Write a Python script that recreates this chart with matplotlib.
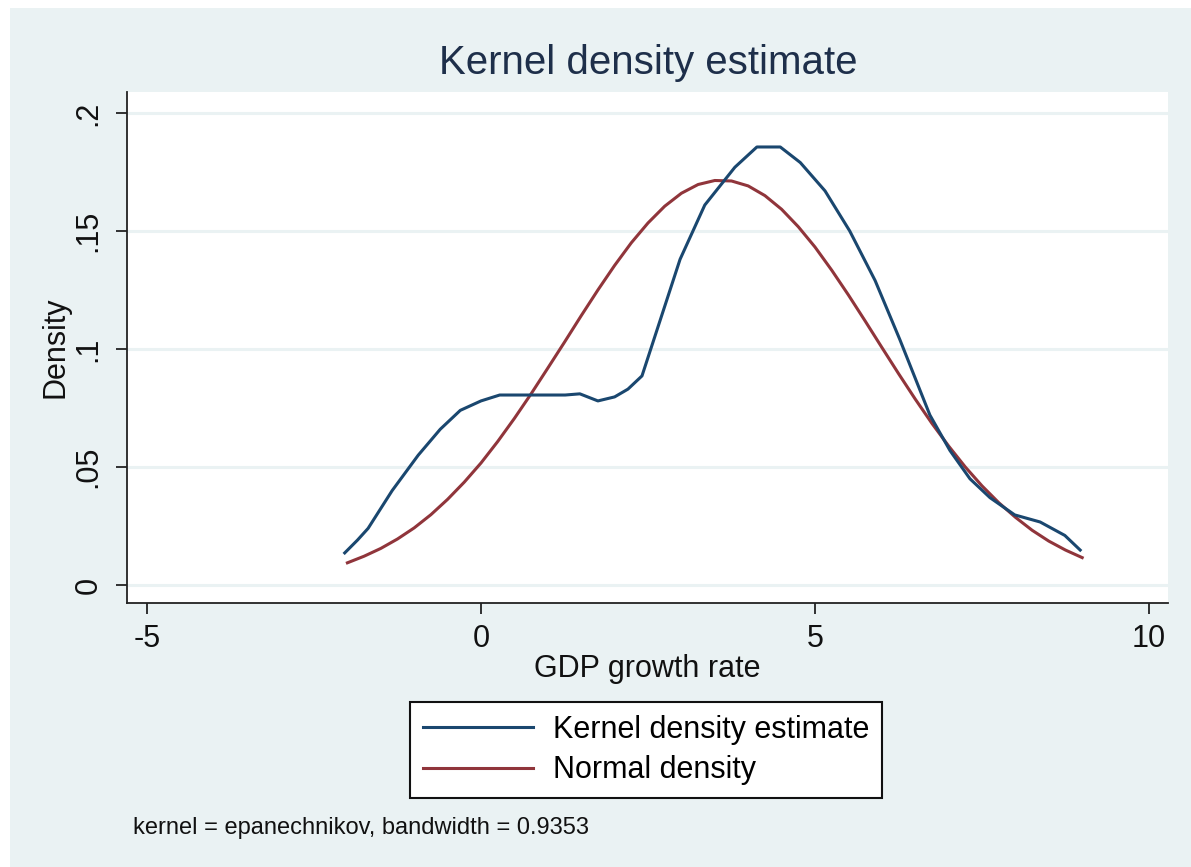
import matplotlib
matplotlib.use("Agg")
import matplotlib.pyplot as plt
from matplotlib.patches import Rectangle

# ---- data ----
kde_x = [-2.04, -1.85, -1.69, -1.33, -0.94, -0.61, -0.31, 0.0, 0.28, 0.73, 1.26, 1.48,
         1.75, 2.0, 2.2, 2.41, 2.68, 2.98, 3.35, 3.80, 4.13, 4.48, 4.78, 5.15,
         5.52, 5.90, 6.27, 6.72, 7.02, 7.32, 7.62, 7.99, 8.37, 8.74, 8.97]
kde_y = [0.0136, 0.019, 0.024, 0.040, 0.055, 0.066, 0.074, 0.078, 0.0805, 0.0805, 0.0805, 0.081,
         0.078, 0.0797, 0.083, 0.0886, 0.112, 0.138, 0.161, 0.177, 0.1856, 0.1856, 0.179, 0.167,
         0.150, 0.129, 0.104, 0.072, 0.057, 0.045, 0.037, 0.0297, 0.0267, 0.021, 0.0148]

norm_x = [-2.0, -1.75, -1.5, -1.25, -1.0, -0.75, -0.5, -0.25, 0.0, 0.25, 0.5, 0.75,
          1.0, 1.25, 1.5, 1.75, 2.0, 2.25, 2.5, 2.75, 3.0, 3.25, 3.5, 3.75,
          4.0, 4.25, 4.5, 4.75, 5.0, 5.25, 5.5, 5.75, 6.0, 6.25, 6.5, 6.75,
          7.0, 7.25, 7.5, 7.75, 8.0, 8.25, 8.5, 8.75, 9.0]
norm_y = [0.0094, 0.0122, 0.0155, 0.0195, 0.0242, 0.0298, 0.0363, 0.0436, 0.0517, 0.0608,
          0.0706, 0.0810, 0.0919, 0.1029, 0.1141, 0.1250, 0.1354, 0.1450, 0.1534, 0.1605,
          0.1660, 0.1697, 0.1714, 0.1712, 0.1691, 0.1650, 0.1592, 0.1518, 0.1432, 0.1334,
          0.1229, 0.1119, 0.1007, 0.0896, 0.0788, 0.0685, 0.0589, 0.0500, 0.0420, 0.0349,
          0.0287, 0.0232, 0.0186, 0.0148, 0.0116]

x_ticks = [-5, 0, 5, 10]
x_ticklabels = ["-5", "0", "5", "10"]
y_ticks = [0, 0.05, 0.1, 0.15, 0.2]
y_ticklabels = ["0", ".05", ".1", ".15", ".2"]

title = "Kernel density estimate"
xlabel = "GDP growth rate"
ylabel = "Density"
legend_labels = ["Kernel density estimate", "Normal density"]
note = "kernel = epanechnikov, bandwidth = 0.9353"

# ---- styling ----
plt.rcParams['font.family'] = ['Liberation Sans', 'DejaVu Sans']
W, H = 1191, 867
BG = "#eaf2f3"
NAVY = "#1a476f"
MAROON = "#90353b"

fig = plt.figure(figsize=(W / 100, H / 100), dpi=100)
fig.patch.set_facecolor("white")
fig.patches.append(Rectangle((10 / W, 0), 1 - 10 / W, 1 - 8 / H,
                             transform=fig.transFigure, facecolor=BG,
                             edgecolor="none", zorder=-10))

left, right, top, bottom = 127, 1168, 92, 603
ax = fig.add_axes([left / W, 1 - bottom / H, (right - left) / W, (bottom - top) / H])
ax.set_facecolor("white")

# pixel calibration: x=-5 at 147, x=10 at 1149; y=0 at 585, y=.2 at 113
ppx = (1149 - 147) / 15.0
ppy = (585 - 113) / 0.2
ax.set_xlim(-5 - (147 - left) / ppx, 10 + (right - 1149) / ppx)
ax.set_ylim(-(bottom - 585) / ppy, 0.2 + (113 - top) / ppy)

for yv in y_ticks:
    ax.axhline(yv, color=BG, lw=2.2, zorder=0)

l1, = ax.plot(kde_x, kde_y, color=NAVY, lw=2.2, solid_joinstyle="round", zorder=3)
l2, = ax.plot(norm_x, norm_y, color=MAROON, lw=2.2, solid_joinstyle="round", zorder=2)

for s in ["top", "right"]:
    ax.spines[s].set_visible(False)
for s in ["left", "bottom"]:
    ax.spines[s].set_color("#222222")
    ax.spines[s].set_linewidth(1.3)

ax.set_xticks(x_ticks)
ax.set_xticklabels(x_ticklabels)
ax.set_yticks(y_ticks)
ax.set_yticklabels(y_ticklabels, rotation=90, va="center")
ax.tick_params(axis="both", direction="out", length=8, width=1.3, color="#222222",
               labelsize=22, labelcolor="#111111")
ax.tick_params(axis="y", pad=9)
ax.tick_params(axis="x", pad=7)

ax.set_xlabel(xlabel, fontsize=22, color="#111111", labelpad=0)
ax.set_ylabel(ylabel, fontsize=22, color="#111111", labelpad=2)

fig.text(648 / W, 1 - 63 / H, title, fontsize=29, color="#1e2f4a",
         ha="center", va="center")

leg = fig.legend([l1, l2], legend_labels, loc="center",
                 bbox_to_anchor=(646 / W, 1 - 750 / H), fontsize=22,
                 frameon=True, fancybox=False, handlelength=3.6,
                 handletextpad=0.65, borderpad=0.42, labelspacing=0.35,
                 borderaxespad=0)
frame = leg.get_frame()
frame.set_edgecolor("#111111")
frame.set_linewidth(1.5)
frame.set_facecolor("white")
frame.set_alpha(1)

fig.text(133 / W, 1 - 828 / H, note, fontsize=17, color="#111111",
         ha="left", va="center")

fig.savefig("out.png", dpi=100, facecolor=fig.get_facecolor())
